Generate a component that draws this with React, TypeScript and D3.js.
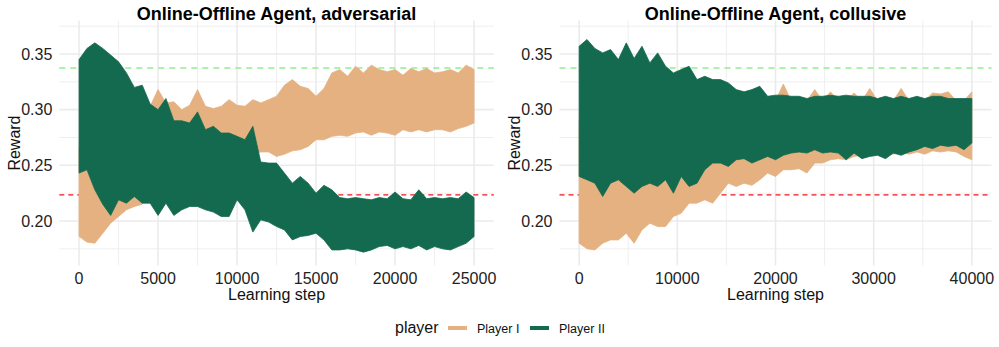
import React from "react";
import * as d3 from "d3";

// players
const playerNames = ["Player I", "Player II"];
const playerColors = ["#E5B181", "#136A4E"];

// adversarial run, envelope of the reward every 500 steps
const advStep = 500;
const advP1Upper = [0.265, 0.27, 0.27, 0.275, 0.28, 0.285, 0.29, 0.309, 0.307, 0.303, 0.318, 0.306, 0.307, 0.3, 0.304, 0.318, 0.303, 0.301, 0.303, 0.309, 0.304, 0.303, 0.309, 0.306, 0.309, 0.312, 0.322, 0.327, 0.321, 0.319, 0.312, 0.319, 0.333, 0.336, 0.33, 0.339, 0.333, 0.34, 0.336, 0.334, 0.336, 0.331, 0.337, 0.334, 0.337, 0.333, 0.334, 0.336, 0.333, 0.34, 0.336];
const advP1Lower = [0.186, 0.181, 0.18, 0.189, 0.198, 0.204, 0.21, 0.213, 0.215, 0.235, 0.24, 0.24, 0.245, 0.245, 0.25, 0.25, 0.25, 0.255, 0.255, 0.255, 0.255, 0.258, 0.26, 0.262, 0.262, 0.258, 0.26, 0.263, 0.264, 0.267, 0.273, 0.273, 0.276, 0.277, 0.276, 0.279, 0.28, 0.277, 0.28, 0.279, 0.277, 0.282, 0.28, 0.282, 0.28, 0.282, 0.282, 0.28, 0.283, 0.285, 0.288];
const advP2Upper = [0.345, 0.355, 0.36, 0.355, 0.349, 0.343, 0.333, 0.32, 0.322, 0.305, 0.3, 0.31, 0.29, 0.29, 0.288, 0.298, 0.282, 0.285, 0.279, 0.279, 0.276, 0.273, 0.285, 0.253, 0.252, 0.252, 0.243, 0.234, 0.24, 0.234, 0.225, 0.232, 0.228, 0.221, 0.22, 0.221, 0.22, 0.219, 0.221, 0.22, 0.226, 0.22, 0.219, 0.228, 0.22, 0.221, 0.22, 0.221, 0.22, 0.226, 0.221];
const advP2Lower = [0.243, 0.246, 0.228, 0.215, 0.205, 0.219, 0.216, 0.222, 0.216, 0.216, 0.205, 0.216, 0.205, 0.21, 0.213, 0.213, 0.21, 0.208, 0.204, 0.204, 0.219, 0.21, 0.19, 0.201, 0.199, 0.195, 0.192, 0.183, 0.186, 0.187, 0.189, 0.183, 0.174, 0.174, 0.175, 0.174, 0.172, 0.174, 0.177, 0.178, 0.175, 0.177, 0.175, 0.178, 0.174, 0.177, 0.175, 0.174, 0.177, 0.18, 0.186];

// collusive run, envelope every 800 steps
const colStep = 800;
const colP1Upper = [0.29, 0.29, 0.29, 0.295, 0.295, 0.3, 0.3, 0.3, 0.3, 0.3, 0.3, 0.3, 0.3, 0.3, 0.3, 0.3, 0.305, 0.305, 0.305, 0.305, 0.305, 0.308, 0.308, 0.308, 0.308, 0.308, 0.323, 0.308, 0.308, 0.308, 0.318, 0.308, 0.316, 0.308, 0.308, 0.315, 0.308, 0.319, 0.308, 0.308, 0.308, 0.319, 0.308, 0.308, 0.308, 0.315, 0.314, 0.316, 0.308, 0.308, 0.316];
const colP1Lower = [0.18, 0.175, 0.174, 0.18, 0.183, 0.183, 0.189, 0.18, 0.192, 0.198, 0.195, 0.195, 0.204, 0.207, 0.216, 0.216, 0.219, 0.216, 0.225, 0.234, 0.231, 0.234, 0.232, 0.237, 0.243, 0.24, 0.246, 0.246, 0.247, 0.243, 0.252, 0.252, 0.255, 0.256, 0.255, 0.258, 0.259, 0.261, 0.262, 0.261, 0.26, 0.262, 0.26, 0.262, 0.26, 0.263, 0.262, 0.263, 0.262, 0.258, 0.255];
const colP2Upper = [0.357, 0.363, 0.355, 0.351, 0.354, 0.345, 0.36, 0.346, 0.357, 0.342, 0.351, 0.339, 0.333, 0.336, 0.339, 0.327, 0.33, 0.327, 0.327, 0.324, 0.318, 0.316, 0.318, 0.321, 0.312, 0.313, 0.313, 0.312, 0.312, 0.31, 0.312, 0.312, 0.313, 0.312, 0.313, 0.312, 0.312, 0.312, 0.31, 0.312, 0.31, 0.312, 0.31, 0.312, 0.31, 0.312, 0.312, 0.31, 0.31, 0.31, 0.31];
const colP2Lower = [0.24, 0.237, 0.234, 0.222, 0.234, 0.237, 0.231, 0.225, 0.231, 0.234, 0.231, 0.237, 0.225, 0.24, 0.231, 0.234, 0.246, 0.252, 0.252, 0.249, 0.255, 0.256, 0.252, 0.255, 0.258, 0.255, 0.259, 0.261, 0.262, 0.261, 0.264, 0.261, 0.262, 0.261, 0.255, 0.261, 0.256, 0.258, 0.259, 0.256, 0.261, 0.259, 0.262, 0.264, 0.267, 0.265, 0.268, 0.267, 0.268, 0.264, 0.27];

// reference lines
const refHigh = 0.3375;
const refLow = 0.2235;

// ticks
const yTicks = [0.2, 0.25, 0.3, 0.35];
const yMinor = [0.175, 0.225, 0.275, 0.325, 0.375];
const advXTicks = [0, 5000, 10000, 15000, 20000, 25000];
const advXMinor = [2500, 7500, 12500, 17500, 22500];
const colXTicks = [0, 10000, 20000, 30000, 40000];
const colXMinor = [5000, 15000, 25000, 35000];

const font = "'Liberation Sans', Arial, Helvetica, sans-serif";
const grid = "#EBEBEB";

const y = d3.scaleLinear().domain([0.16, 0.38]).range([265.5, 20.6]);

type Series = { step: number; upper: number[]; lower: number[]; color: string };

function Panel(props: {
  title: string;
  xDomain: [number, number];
  xRange: [number, number];
  xTicks: number[];
  xMinor: number[];
  series: Series[];
  labelX: number;
}) {
  const { title, xDomain, xRange, xTicks, xMinor, series, labelX } = props;
  const x = d3.scaleLinear().domain(xDomain).range(xRange);
  const [left, right] = xRange;
  const [bottom, top] = y.range();
  const mid = (left + right) / 2;

  return (
    <g>
      {/* grid */}
      {yMinor.map((v) => (
        <line key={"ym" + v} x1={left} x2={right} y1={y(v)} y2={y(v)} stroke={grid} strokeWidth={0.8} />
      ))}
      {xMinor.map((v) => (
        <line key={"xm" + v} x1={x(v)} x2={x(v)} y1={top} y2={bottom} stroke={grid} strokeWidth={0.8} />
      ))}
      {yTicks.map((v) => (
        <line key={"y" + v} x1={left} x2={right} y1={y(v)} y2={y(v)} stroke={grid} strokeWidth={1.6} />
      ))}
      {xTicks.map((v) => (
        <line key={"x" + v} x1={x(v)} x2={x(v)} y1={top} y2={bottom} stroke={grid} strokeWidth={1.6} />
      ))}

      {/* reference lines */}
      <line x1={left} x2={right} y1={y(refHigh)} y2={y(refHigh)} stroke="#90EE90" strokeWidth={1.5} strokeDasharray="6,5" />
      <line x1={left} x2={right} y1={y(refLow)} y2={y(refLow)} stroke="#F0141E" strokeWidth={1.2} strokeDasharray="5,4" />

      {/* series */}
      {series.map((s, k) => {
        const area = d3
          .area<number>()
          .x((_, i) => x(i * s.step))
          .y0((_, i) => y(s.lower[i]))
          .y1((d) => y(d));
        return (
          <path key={k} d={area(s.upper) || ""} fill={s.color} stroke={s.color} strokeWidth={0.8} strokeLinejoin="bevel" />
        );
      })}

      {/* axes text */}
      {yTicks.map((v) => (
        <text key={"yl" + v} x={left - 7} y={y(v)} dy="0.35em" textAnchor="end" fontSize={16} fill="#222">
          {d3.format(".2f")(v)}
        </text>
      ))}
      {xTicks.map((v) => (
        <text key={"xl" + v} x={x(v)} y={284} textAnchor="middle" fontSize={16} fill="#222">
          {v}
        </text>
      ))}
      <text x={mid} y={300} textAnchor="middle" fontSize={16} fill="#111">
        Learning step
      </text>
      <text transform={`translate(${labelX},${(top + bottom) / 2}) rotate(-90)`} textAnchor="middle" fontSize={16} fill="#111">
        Reward
      </text>
      <text x={mid} y={19.5} textAnchor="middle" fontSize={18} fontWeight="bold" fill="#000">
        {title}
      </text>
    </g>
  );
}

export default function App() {
  const advSeries: Series[] = [
    { step: advStep, upper: advP1Upper, lower: advP1Lower, color: playerColors[0] },
    { step: advStep, upper: advP2Upper, lower: advP2Lower, color: playerColors[1] },
  ];
  const colSeries: Series[] = [
    { step: colStep, upper: colP1Upper, lower: colP1Lower, color: playerColors[0] },
    { step: colStep, upper: colP2Upper, lower: colP2Lower, color: playerColors[1] },
  ];

  return (
    <svg
      width={999}
      height={347}
      style={{ position: "absolute", left: 0, top: 0, background: "#fff", fontFamily: font }}
    >
      <Panel
        title="Online-Offline Agent, adversarial"
        xDomain={[-1250, 26250]}
        xRange={[59.3, 493.8]}
        xTicks={advXTicks}
        xMinor={advXMinor}
        series={advSeries}
        labelX={20}
      />
      <Panel
        title="Online-Offline Agent, collusive"
        xDomain={[-2000, 42000]}
        xRange={[559.5, 991.5]}
        xTicks={colXTicks}
        xMinor={colXMinor}
        series={colSeries}
        labelX={520}
      />

      {/* legend */}
      <text x={395} y={333} fontSize={16} fill="#111">player</text>
      {playerNames.map((name, i) => {
        const x0 = i === 0 ? 448 : 530;
        return (
          <g key={name}>
            <line x1={x0} x2={x0 + 19} y1={328} y2={328} stroke={playerColors[i]} strokeWidth={4} />
            <text x={x0 + 29} y={332.5} fontSize={12.5} fill="#111">{name}</text>
          </g>
        );
      })}
    </svg>
  );
}
